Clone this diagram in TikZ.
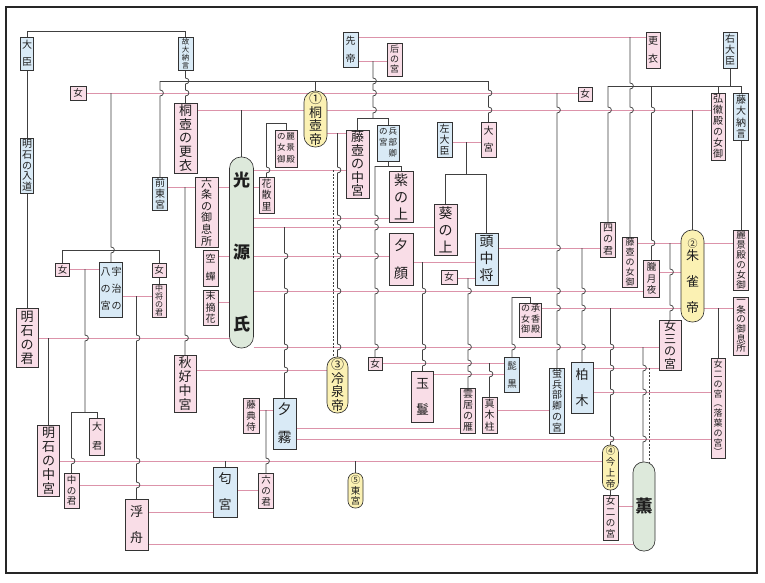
\documentclass[tikz,border=0pt]{standalone}
\usepackage{fontspec}
\setmainfont{Noto Sans CJK JP}
\pgfdeclarelayer{back}\pgfdeclarelayer{bg}\pgfsetlayers{back,bg,main}
\definecolor{pfill}{HTML}{F9DDE7}
\definecolor{bfill}{HTML}{D9EAF6}
\definecolor{yfill}{HTML}{FBF1B3}
\definecolor{gfill}{HTML}{DDE9DB}
\definecolor{bd}{HTML}{333333}
\definecolor{pl}{HTML}{DC93AA}
\definecolor{dk}{HTML}{404040}
\definecolor{tx}{HTML}{1E1E1E}
\tikzset{
 bxbase/.style={draw=bd, line width=0.65pt, inner sep=0pt, outer sep=0pt, align=center, text=tx},
 pk/.style={bxbase, fill=pfill},
 bl/.style={bxbase, fill=bfill},
 yl/.style={bxbase, fill=yfill, rounded corners=#1},
 gr/.style={bxbase, fill=gfill, rounded corners=#1},
 fs/.style 2 args={font=\fontsize{#1}{#2}\selectfont},
 ml/.style={draw=pl, line width=1pt},
 dl/.style={draw=dk, line width=0.75pt},
 dsh/.style={draw=dk, line width=0.75pt, dash pattern=on 2pt off 1.6pt},
}
\newcommand\gBX[7]{%
 \pgfmathsetmacro\gw{#5-#3}\pgfmathsetmacro\gh{#6-#4}%
 \pgfmathsetmacro\gx{(#3+#5)/2}\pgfmathsetmacro\gy{(#4+#6)/2}%
 \node[#2, minimum width=\gw pt, minimum height=\gh pt] (#1) at (\gx,\gy) {#7};}
\newcommand\gVJ[5][dl]{\draw[#1] (#2,#3) \foreach \yb in {#5}{ -- (#2,\yb-3) .. controls (#2+4.5,\yb-3) and (#2+4.5,\yb+3) .. (#2,\yb+3)} -- (#2,0 |- #4.north);}
\newcommand\gVC[5][dl]{\draw[#1] (#2,#3) \foreach \yb in {#5}{ -- (#2,\yb-3) .. controls (#2+4.5,\yb-3) and (#2+4.5,\yb+3) .. (#2,\yb+3)} -- (#2,#4);}
\newcommand\gVS[4][dl]{\draw[#1] (#2,#3) -- (#2,0 |- #4.north);}
\newcommand\gHL[3]{\draw[ml] (#2.east |- 0,#1) -- (#3.west |- 0,#1);}
\newcommand\gBR[3]{\draw[dl] (#2.north) -- (#2.north |- 0,#1) -- (#3.north |- 0,#1) -- (#3.north);}
\begin{document}
\begin{tikzpicture}[x=1pt,y=-1pt]
\useasboundingbox (0,0) rectangle (765,582);
\begin{pgfonlayer}{back}
 \fill[white] (0,0) rectangle (765,582);
 \draw[line width=1.4pt, draw=black!85] (6,7) rectangle (757,573);
\end{pgfonlayer}
% ---------- nodes ----------
\gBX{daijin}{bl,fs={10}{17}}{20.5}{37}{33.5}{70}{大\\臣}
\gBX{nyudo}{bl,fs={10}{10.8}}{20.5}{138}{33.5}{193}{明\\石\\の\\入\\道}
\gBX{kodai}{bl,fs={7.5}{8}}{178}{37}{193}{70}{故\\大\\納\\言}
\gBX{sentei}{bl,fs={10}{18}}{343}{32}{358}{67}{先\\帝}
\gBX{kisaki}{pk,fs={9}{10}}{387}{43}{402}{76}{后\\の\\宮}
\gBX{koi}{pk,fs={10}{18}}{646}{32}{660}{68}{更\\衣}
\gBX{udaijin}{bl,fs={10}{11}}{723}{32}{737}{68}{右\\大\\臣}
\gBX{onnaTL}{pk,fs={9.5}{10}}{70}{86}{86}{100}{女}
\gBX{onnaTR}{pk,fs={9.5}{10}}{578}{87}{592}{101}{女}
\gBX{kiri}{yl=11pt,fs={13}{13.5}}{304}{91}{327}{147}{①\\桐\\壺\\帝}
\gBX{kiritsubokoi}{pk,fs={13}{13.8}}{174}{103}{197}{173}{桐\\壺\\の\\更\\衣}
\gBX{reikeiL}{pk,fs={8.5}{11.5}}{275}{130}{297}{167}{\begin{tabular}{@{}c@{\hspace{1pt}}c@{}}の&麗\\女&景\\御&殿\end{tabular}}
\gBX{hyobu}{bl,fs={8.5}{11}}{377}{125}{399}{161}{\begin{tabular}{@{}c@{\hspace{1pt}}c@{}}の&兵\\宮&部\\&卿\end{tabular}}
\gBX{fujitsubo}{pk,fs={13}{13.5}}{346}{130}{369}{198}{藤\\壺\\の\\中\\宮}
\gBX{sadaijin}{bl,fs={10}{11}}{437}{122}{452}{157}{左\\大\\臣}
\gBX{omiya}{pk,fs={10}{17}}{481}{122}{496}{157}{大\\宮}
\gBX{kokiden}{pk,fs={10}{11}}{711}{93}{725}{160}{弘\\徽\\殿\\の\\女\\御}
\gBX{fujidai}{bl,fs={10}{11.5}}{733.5}{93}{748.5}{140}{藤\\大\\納\\言}
\gBX{murasaki}{pk,fs={14}{17}}{389}{171}{413}{222}{紫\\の\\上}
\gBX{aoi}{pk,fs={14}{17}}{434}{204}{457}{255}{葵\\の\\上}
\gBX{tono}{bl,fs={14}{17}}{475}{233}{498}{285}{頭\\中\\将}
\gBX{yugao}{pk,fs={14}{28}}{389}{233}{413}{285}{夕\\顔}
\gBX{onnaT}{pk,fs={9.5}{10}}{441}{270}{457}{284}{女}
\gBX{zentogu}{bl,fs={10}{10.8}}{152.5}{177}{167.5}{210}{前\\東\\宮}
\gBX{rokujo}{pk,fs={11}{11.6}}{195}{177}{218}{247}{六\\条\\の\\御\\息\\所}
\gBX{genji}{gr=11.5pt,fs={17}{72}}{229.5}{157}{253.5}{348}{\bfseries 光\\\bfseries 源\\\bfseries 氏}
\gBX{hanachiru}{pk,fs={10}{11.5}}{259}{177}{274}{213}{花\\散\\里}
\gBX{utsusemi}{pk,fs={10}{18}}{203}{250}{218}{286}{空\\蟬}
\gBX{suetsumu}{pk,fs={10}{11.5}}{203}{290}{218}{325}{末\\摘\\花}
\gBX{akikonomu}{pk,fs={13}{14}}{174}{355}{196}{412}{秋\\好\\中\\宮}
\gBX{reizei}{yl=10pt,fs={13}{13.5}}{327}{357}{348}{413}{③\\冷\\泉\\帝}
\gBX{onnaH}{pk,fs={9.5}{10}}{368}{357}{382}{370}{女}
\gBX{yugiri}{bl,fs={14}{28}}{273}{398}{296}{449}{夕\\霧}
\gBX{fujinaishi}{pk,fs={9.5}{11}}{243}{398}{259}{433}{藤\\典\\侍}
\gBX{roku}{pk,fs={9.5}{11}}{258.5}{473}{273.5}{508}{六\\の\\君}
\gBX{togu}{yl=7pt,fs={9.5}{10.5}}{348}{473}{363}{508}{⑤\\東\\宮}
\gBX{tamakazura}{pk,fs={13}{26}}{411.5}{371}{433.5}{422}{玉\\鬘}
\gBX{kumoi}{pk,fs={10}{11}}{460.5}{388}{475.5}{433}{雲\\居\\の\\雁}
\gBX{makibashira}{pk,fs={10}{11.5}}{482}{397}{497}{433}{真\\木\\柱}
\gBX{higekuro}{bl,fs={9.5}{18}}{504.5}{357}{519.5}{392}{髭\\黒}
\gBX{shokyo}{pk,fs={9}{10.5}}{519.5}{303}{541.5}{337}{\begin{tabular}{@{}c@{\hspace{1pt}}c@{}}の&承\\女&香\\御&殿\end{tabular}}
\gBX{hotaru}{bl,fs={10}{10.8}}{549.5}{368}{564.5}{433}{蛍\\兵\\部\\卿\\の\\宮}
\gBX{kashiwagi}{bl,fs={13}{26}}{571}{362}{593}{413}{柏\\木}
\gBX{yonnokimi}{pk,fs={10}{11.5}}{600.5}{222}{615.5}{257}{四\\の\\君}
\gBX{fujinyogo}{pk,fs={9}{10}}{622.5}{237}{637.5}{287}{藤\\壺\\の\\女\\御}
\gBX{oboro}{pk,fs={9.5}{11.5}}{643.5}{260}{659.5}{297}{朧\\月\\夜}
\gBX{suzaku}{yl=11pt,fs={13}{14}}{681}{230}{704}{322}{{\fontsize{10}{11}\selectfont ②}\\[-1pt]朱\\[12pt]雀\\[12pt]帝}
\gBX{reikeiR}{pk,fs={9.5}{10}}{733.5}{230}{748.5}{290}{麗\\景\\殿\\の\\女\\御}
\gBX{ichijo}{pk,fs={9.5}{9.7}}{733.5}{297}{748.5}{355}{一\\条\\の\\御\\息\\所}
\gBX{onnasan}{pk,fs={12}{12.5}}{659}{320}{681}{370}{女\\三\\の\\宮}
\gBX{ochiba}{pk,fs={9}{9.8}}{711}{358}{725}{458}{女\\二\\の\\宮\\︵\\落\\葉\\の\\宮\\︶}
\gBX{kinjo}{yl=7.5pt,fs={9.5}{11}}{602.5}{445}{618.5}{490}{④\\今\\上\\帝}
\gBX{onnani}{pk,fs={9.5}{11}}{603}{495}{618}{540}{女\\二\\の\\宮}
\gBX{kaoru}{gr=10.5pt,fs={17}{20}}{633}{462}{655}{551}{\bfseries 薫}
\gBX{akashinokimi}{pk,fs={13}{14}}{16}{308}{38}{367}{明\\石\\の\\君}
\gBX{hachi}{bl,fs={10}{17}}{99.5}{262}{122.5}{317}{\begin{tabular}{@{}c@{\hspace{1pt}}c@{}}八&宇\\の&治\\宮&の\end{tabular}}
\gBX{onnaL}{pk,fs={9.5}{10}}{55.5}{263}{69.5}{276}{女}
\gBX{onnaR}{pk,fs={9.5}{10}}{152}{263}{166}{277}{女}
\gBX{chujonokimi}{pk,fs={8}{8.2}}{152}{284}{166}{317}{中\\将\\の\\君}
\gBX{akashichugu}{pk,fs={13}{14}}{37.5}{425}{59.5}{496}{明\\石\\の\\中\\宮}
\gBX{oigimi}{pk,fs={10}{19}}{89.5}{418}{104.5}{455}{大\\君}
\gBX{nakanokimi}{pk,fs={9.5}{10.5}}{64}{473}{79}{508}{中\\の\\君}
\gBX{ukifune}{pk,fs={13}{26}}{125}{499}{148}{550}{浮\\舟}
\gBX{niou}{bl,fs={13}{26}}{213}{467}{237}{517}{匂\\宮}
% ---------- connectors ----------
\begin{pgfonlayer}{bg}
\gHL{37}{sentei}{koi}
\gHL{61}{sentei}{kisaki}
\gHL{93}{onnaTL}{onnaTR}
\gHL{110}{kiritsubokoi}{kokiden}
\gHL{133}{kiri}{fujitsubo}
\gHL{142}{sadaijin}{omiya}
\gHL{170}{genji}{fujitsubo}
\gHL{187}{zentogu}{hanachiru}
\gHL{218}{genji}{murasaki}
\gHL{227}{genji}{aoi}
\gHL{256}{utsusemi}{yugao}
\gHL{302}{suetsumu}{genji}
\gHL{338}{akashinokimi}{genji}
\gHL{291}{genji}{oboro}
\gHL{347}{genji}{onnasan}
\gHL{370}{akikonomu}{reizei}
\gHL{262}{yugao}{tono}
\gHL{278}{onnaT}{tono}
\gHL{248}{tono}{yonnokimi}
\gHL{243}{fujinyogo}{reikeiR}
\gHL{272}{oboro}{suzaku}
\gHL{308}{shokyo}{ichijo}
\gHL{363}{onnaH}{higekuro}
\gHL{374}{tamakazura}{higekuro}
\gHL{368}{kashiwagi}{onnasan}
\gHL{392}{kashiwagi}{ochiba}
\gHL{410}{makibashira}{hotaru}
\gHL{410}{fujinaishi}{yugiri}
\gHL{428}{yugiri}{kumoi}
\gHL{439}{yugiri}{ochiba}
\gHL{269}{onnaL}{hachi}
\gHL{296}{hachi}{chujonokimi}
\gHL{461}{akashichugu}{kinjo}
\gHL{485}{nakanokimi}{niou}
\gHL{512}{ukifune}{niou}
\gHL{490}{niou}{roku}
\gHL{544}{ukifune}{kaoru}
\gHL{506}{onnani}{kaoru}
% descent lines
\draw[dl] (daijin.north) -- ++(0,-6) -| (kodai.north);
\draw[dl] (daijin.south) -- (nyudo.north);
\draw[dl] (nyudo.south) -- (akashinokimi.north);
\gVJ{185.5}{70}{kiritsubokoi}{81,93}
\draw[dl] (160,81) -- (488.5,81);
\gVJ{160}{81}{zentogu}{93}
\gVS{315.5}{81}{kiri}
\gVJ{488.5}{81}{omiya}{93,110}
\gVC{373}{61}{118}{81,93,110}
\gBR{118}{fujitsubo}{hyobu}
\gVJ{630}{37}{fujinyogo}{86,110}
\draw[dl] (udaijin.south) -- (730,86);
\draw[dl] (608,86) -- (741,86);
\gVJ{608}{86}{yonnokimi}{110}
\gVJ{651.5}{86}{oboro}{110,243}
\gVS{718}{86}{kokiden}
\gVS{741}{86}{fujidai}
\draw[dl] (fujidai.south) -- (reikeiR.north);
\gVS{692.5}{110}{suzaku}
\gVJ{557}{93}{hotaru}{110,248,291,308,347}
\gVS{241.5}{110}{genji}
\draw[dl] (reikeiL.north) -- (286,123) -- (266.5,123);
\gVJ{266.5}{123}{hanachiru}{170}
\gVJ{337.5}{133}{reizei}{170,218,227,256,291,347}
\gVS[dsh]{333}{170}{reizei}
\draw[dl] (466,142) -- (466,174);
\gBR{174}{aoi}{tono}
\draw[dl] (hyobu.south) -- (388,166);
\draw[dl] (375,166) -- (murasaki.north |- 0,166) -- (murasaki.north);
\gVJ{375}{166}{onnaH}{218,227,256,291,347}
\gVJ{284.5}{227}{yugiri}{256,291,347,370}
\gVJ{185}{187}{akikonomu}{338}
\gVS{48.5}{338}{akashichugu}
\gVJ{111}{93}{hachi}{250}
\gBR{250}{onnaL}{onnaR}
\draw[dl] (onnaR.south) -- (chujonokimi.north);
\gVC{85}{269}{412}{338}
\draw[dl] (oigimi.north) -- (97,412) -- (71.5,412);
\gVJ{71.5}{412}{nakanokimi}{461}
\gVJ{136.5}{296}{ukifune}{338,461,485}
\gVS{225}{461}{niou}
\gVS{355.5}{461}{togu}
\gVJ{266}{410}{roku}{461}
\gVJ{422.5}{262}{tamakazura}{291,347,363}
\gVJ{468}{278}{kumoi}{291,347,363,374}
\gVJ{489.5}{363}{makibashira}{374}
\draw[dl] (shokyo.north) -- (530.5,297) -- (512,297);
\gVJ{512}{297}{higekuro}{347}
\gVJ{582}{248}{kashiwagi}{291,308,347}
\gVJ{610.5}{308}{kinjo}{347,368,392,439}
\draw[dl] (kinjo.south) -- (onnani.north);
\gVJ{670}{243}{onnasan}{272,308}
\gVS{718}{308}{ochiba}
\gVJ{643}{347}{kaoru}{368,392,439}
\gVS[dsh]{649}{368}{kaoru}
\end{pgfonlayer}
\end{tikzpicture}
\end{document}
